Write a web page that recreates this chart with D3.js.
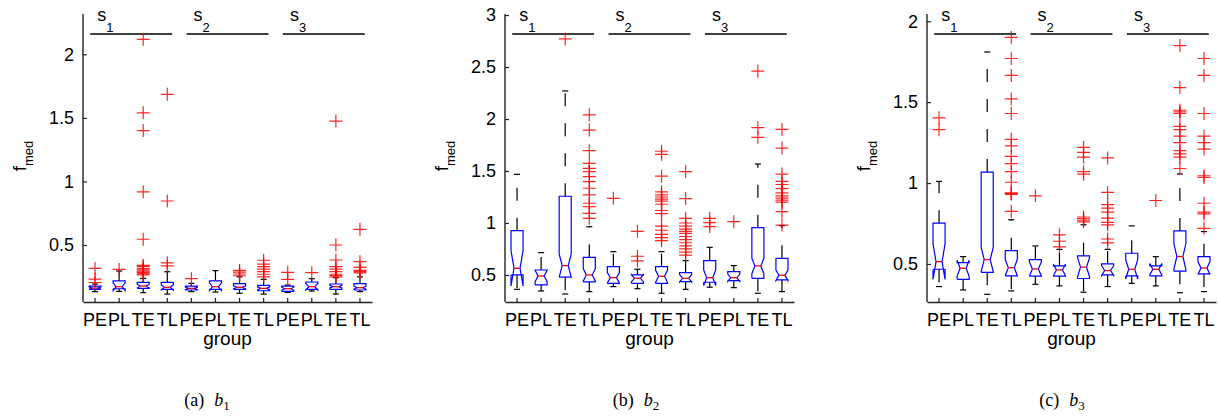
<!DOCTYPE html>
<html>
<head>
<meta charset="utf-8">
<script src="https://cdn.jsdelivr.net/npm/d3@7"></script>
<style>
  html, body { margin: 0; padding: 0; background: #fff; }
  svg { display: block; }
  text { font-family: "Liberation Sans", Arial, Helvetica, sans-serif; fill: #000; }
</style>
</head>
<body>
<svg id="chart" width="1218" height="417"></svg>
<script>
// Categories along each x axis (three groups s1, s2, s3 of four settings each)
const categories = ["PE", "PL", "TE", "TL"];
const groups = ["1", "2", "3"];

// ---- b1 : lower whisker, quartiles, median, upper whisker, notch half-width
const b1Low   = [0.133, 0.135, 0.125, 0.114, 0.133, 0.130, 0.120, 0.114, 0.127, 0.138, 0.114, 0.133];
const b1Q1    = [0.151, 0.156, 0.159, 0.151, 0.146, 0.151, 0.151, 0.140, 0.135, 0.151, 0.151, 0.146];
const b1Med   = [0.161, 0.172, 0.177, 0.167, 0.159, 0.172, 0.167, 0.159, 0.156, 0.172, 0.172, 0.164];
const b1Q3    = [0.177, 0.217, 0.206, 0.206, 0.177, 0.217, 0.196, 0.182, 0.177, 0.209, 0.193, 0.196];
const b1High  = [0.193, 0.295, 0.237, 0.290, 0.198, 0.298, 0.250, 0.230, 0.185, 0.235, 0.243, 0.250];
const b1Notch = [0.010, 0.030, 0.015, 0.020, 0.010, 0.030, 0.012, 0.012, 0.012, 0.025, 0.010, 0.012];
const b1Out = [
  [0.316, 0.232, 0.205],
  [0.308],
  [2.118, 1.54, 1.40, 0.918, 0.545, 0.34, 0.33, 0.315, 0.305, 0.295, 0.285, 0.275, 0.265],
  [1.685, 0.846, 0.36, 0.335],
  [0.235],
  [],
  [0.300, 0.287, 0.272, 0.258],
  [0.38, 0.35, 0.33, 0.31, 0.29, 0.27, 0.25],
  [0.285, 0.23],
  [0.282],
  [1.475, 0.50, 0.382, 0.33, 0.31, 0.29, 0.27, 0.26, 0.25],
  [0.623, 0.369, 0.324, 0.30, 0.29, 0.28]
];

// ---- b2
const b2Low   = [0.362, 0.346, 0.317, 0.340, 0.388, 0.368, 0.324, 0.362, 0.382, 0.378, 0.324, 0.340];
const b2Q1    = [0.500, 0.404, 0.480, 0.433, 0.420, 0.420, 0.420, 0.436, 0.430, 0.446, 0.468, 0.452];
const b2Med   = [0.564, 0.490, 0.590, 0.500, 0.474, 0.468, 0.487, 0.468, 0.474, 0.474, 0.587, 0.497];
const b2Q3    = [0.926, 0.548, 1.257, 0.670, 0.580, 0.500, 0.580, 0.522, 0.638, 0.532, 0.955, 0.660];
const b2High  = [1.468, 0.715, 2.270, 0.964, 0.724, 0.555, 0.724, 0.638, 0.766, 0.590, 1.567, 0.975];
const b2Notch = [0.170, 0.055, 0.110, 0.060, 0.050, 0.035, 0.060, 0.035, 0.075, 0.035, 0.075, 0.050];
const b2Out = [
  [],
  [],
  [2.77],
  [2.04, 1.894, 1.695, 1.574, 1.526, 1.494, 1.446, 1.398, 1.334, 1.27, 1.19, 1.158, 1.093, 1.045],
  [1.237],
  [0.92, 0.68, 0.635],
  [1.69, 1.66, 1.45, 1.30, 1.27, 1.25, 1.23, 1.21, 1.18, 1.12, 1.09, 0.97, 0.93, 0.89, 0.86, 0.83],
  [1.494, 1.235, 1.045, 1.0, 0.97, 0.94, 0.92, 0.90, 0.87, 0.84, 0.81, 0.78, 0.75, 0.72, 0.69],
  [1.045, 1.003, 0.965],
  [1.013],
  [2.46, 1.917, 1.824],
  [1.90, 1.72, 1.47, 1.40, 1.37, 1.33, 1.29, 1.26, 1.24, 1.22, 1.20, 1.11, 0.98]
];

// ---- b3
const b3Low   = [0.360, 0.339, 0.312, 0.333, 0.374, 0.364, 0.325, 0.360, 0.380, 0.364, 0.322, 0.329];
const b3Q1    = [0.467, 0.405, 0.448, 0.426, 0.424, 0.424, 0.410, 0.432, 0.426, 0.426, 0.455, 0.438];
const b3Med   = [0.514, 0.473, 0.527, 0.477, 0.469, 0.463, 0.480, 0.459, 0.467, 0.467, 0.546, 0.475];
const b3Q3    = [0.752, 0.508, 1.068, 0.582, 0.527, 0.488, 0.550, 0.500, 0.566, 0.488, 0.704, 0.545];
const b3High  = [1.010, 0.545, 1.810, 0.773, 0.611, 0.590, 0.742, 0.590, 0.735, 0.545, 1.056, 0.700];
const b3Notch = [0.110, 0.050, 0.075, 0.050, 0.045, 0.035, 0.060, 0.030, 0.060, 0.035, 0.080, 0.040];
const b3Out = [
  [1.403, 1.33],
  [],
  [],
  [1.90, 1.77, 1.665, 1.52, 1.43, 1.27, 1.23, 1.165, 1.12, 1.07, 1.005, 0.94, 0.935, 0.93, 0.825],
  [0.921],
  [0.68, 0.64, 0.605],
  [1.22, 1.19, 1.16, 1.07, 1.055, 0.79, 0.78, 0.77, 0.76],
  [1.155, 0.942, 0.866, 0.845, 0.82, 0.783, 0.757, 0.742, 0.654, 0.63],
  [],
  [0.892],
  [1.85, 1.59, 1.45, 1.44, 1.43, 1.35, 1.33, 1.29, 1.25, 1.20, 1.18, 1.16, 1.09],
  [1.77, 1.665, 1.43, 1.29, 1.25, 1.21, 1.045, 1.035, 0.875, 0.82, 0.81, 0.72]
];

// y-axis ticks and limits of each subplot
const b1Ticks = [0.5, 1, 1.5, 2];
const b2Ticks = [0.5, 1, 1.5, 2, 2.5, 3];
const b3Ticks = [0.5, 1, 1.5, 2];
const b1Limits = [0.0516, 2.317];
const b2Limits = [0.24, 3.01];
const b3Limits = [0.2646, 2.045];

const captionLetters = ["a", "b", "c"];
const captionIndex = ["1", "2", "3"];

// ---------------------------------------------------------------------------
const svg = d3.select("#chart");
svg.append("rect").attr("width", 1218).attr("height", 417).attr("fill", "#fff");

const keys = [];
groups.forEach(g => categories.forEach(c => keys.push(c + "|" + g)));

const panels = [
  { left: 83,  right: 372,  limits: b1Limits, ticks: b1Ticks, low: b1Low, q1: b1Q1, med: b1Med, q3: b1Q3, high: b1High, notch: b1Notch, out: b1Out, capX: 207 },
  { left: 505, right: 794,  limits: b2Limits, ticks: b2Ticks, low: b2Low, q1: b2Q1, med: b2Med, q3: b2Q3, high: b2High, notch: b2Notch, out: b2Out, capX: 636 },
  { left: 927, right: 1216, limits: b3Limits, ticks: b3Ticks, low: b3Low, q1: b3Q1, med: b3Med, q3: b3Q3, high: b3High, notch: b3Notch, out: b3Out, capX: 1062 }
];

const plotTop = 14, plotBottom = 302;

panels.forEach((p, pi) => {
  const g = svg.append("g");
  const x = d3.scaleBand().domain(keys).range([p.left, p.right]).paddingInner(0).paddingOuter(0);
  const y = d3.scaleLinear().domain(p.limits).range([plotBottom, plotTop]);
  const bw = x.bandwidth();
  const boxW = bw * 0.5;
  const cx = k => x(k) + bw / 2;

  // group bars with s_i labels
  groups.forEach((gr, gi) => {
    const k0 = keys[gi * 4], k3 = keys[gi * 4 + 3];
    const x0 = x(k0) + bw * 0.3, x1 = x(k3) + bw * 0.7;
    g.append("line").attr("x1", x0).attr("x2", x1).attr("y1", 34).attr("y2", 34)
      .attr("stroke", "#000").attr("stroke-width", 1.3);
    const t = g.append("text").attr("x", x0 + 7).attr("y", 21).attr("font-size", 18);
    t.append("tspan").text("s");
    t.append("tspan").attr("dy", 11).attr("font-size", 13).text(gr);
  });

  keys.forEach((k, i) => {
    const c = cx(k);
    const L = c - boxW / 2, R = c + boxW / 2;
    const IL = c - boxW / 4, IR = c + boxW / 4;
    const q1 = p.q1[i], q3 = p.q3[i], m = p.med[i], n = p.notch[i];

    // whiskers (dashed, starting from the box edge)
    g.append("line").attr("x1", c).attr("x2", c).attr("y1", y(q3)).attr("y2", y(p.high[i]))
      .attr("stroke", "#000").attr("stroke-width", 1.2).attr("stroke-dasharray", "13,17");
    g.append("line").attr("x1", c).attr("x2", c).attr("y1", y(q1)).attr("y2", y(p.low[i]))
      .attr("stroke", "#000").attr("stroke-width", 1.2).attr("stroke-dasharray", "13,17");
    // whisker caps
    [p.high[i], p.low[i]].forEach(v => {
      g.append("line").attr("x1", IL).attr("x2", IR).attr("y1", y(v)).attr("y2", y(v))
        .attr("stroke", "#000").attr("stroke-width", 1.2);
    });

    // notched box outline
    const pts = [
      [L, q1], [L, m - n], [IL, m], [L, m + n], [L, q3],
      [R, q3], [R, m + n], [IR, m], [R, m - n], [R, q1], [L, q1]
    ];
    g.append("path")
      .attr("d", d3.line().x(d => d[0]).y(d => y(d[1]))(pts))
      .attr("fill", "none").attr("stroke", "#0000ff").attr("stroke-width", 1.2)
      .attr("stroke-linejoin", "miter");

    // median
    g.append("line").attr("x1", IL).attr("x2", IR).attr("y1", y(m)).attr("y2", y(m))
      .attr("stroke", "#ff0000").attr("stroke-width", 1.3);

    // outliers
    p.out[i].forEach(v => {
      const yy = y(v);
      g.append("path")
        .attr("d", `M${c - 6.5},${yy}H${c + 6.5}M${c},${yy - 6.5}V${yy + 6.5}`)
        .attr("stroke", "#ff0000").attr("stroke-width", 1.2).attr("stroke-opacity", 0.85)
        .attr("fill", "none");
    });
  });

  // axes
  const ax = g.append("g").attr("transform", `translate(0,${plotBottom})`)
    .call(d3.axisBottom(x).tickSizeInner(-4).tickSizeOuter(0).tickPadding(11)
      .tickFormat(k => k.split("|")[0]));
  const ay = g.append("g").attr("transform", `translate(${p.left},0)`)
    .call(d3.axisLeft(y).tickValues(p.ticks).tickSizeInner(-4).tickSizeOuter(0).tickPadding(9)
      .tickFormat(d3.format("~g")));
  [ax, ay].forEach(a => {
    a.selectAll("path.domain").attr("stroke", "#222").attr("stroke-width", 1.4);
    a.selectAll(".tick line").attr("stroke", "#222").attr("stroke-width", 1.2);
    a.selectAll("text").attr("fill", "#000")
      .attr("font-family", "'Liberation Sans', Arial, sans-serif");
  });
  ax.selectAll("text").attr("font-size", 18);
  ay.selectAll("text").attr("font-size", 18);
  // left axis line spans the whole plot height
  ay.select("path.domain").attr("d", `M0,${plotBottom}V${plotTop}`);

  // axis titles
  g.append("text").attr("x", (p.left + p.right) / 2).attr("y", 345)
    .attr("text-anchor", "middle").attr("font-size", 19).text("group");
  const yl = g.append("text")
    .attr("transform", `translate(${p.left - 57},156) rotate(-90)`)
    .attr("text-anchor", "middle").attr("font-size", 19);
  yl.append("tspan").text("f");
  yl.append("tspan").attr("dy", 7).attr("font-size", 13).text("med");

  // subfigure caption
  const cap = svg.append("text").attr("x", p.capX).attr("y", 406).attr("text-anchor", "middle")
    .attr("font-size", 18).style("font-family", "'Liberation Serif', 'DejaVu Serif', serif");
  cap.append("tspan").text("(" + captionLetters[pi] + ")");
  cap.append("tspan").attr("dx", 10).attr("font-style", "italic").text("b");
  cap.append("tspan").attr("dy", 4).attr("font-size", 13).text(captionIndex[pi]);
});
</script>
</body>
</html>
